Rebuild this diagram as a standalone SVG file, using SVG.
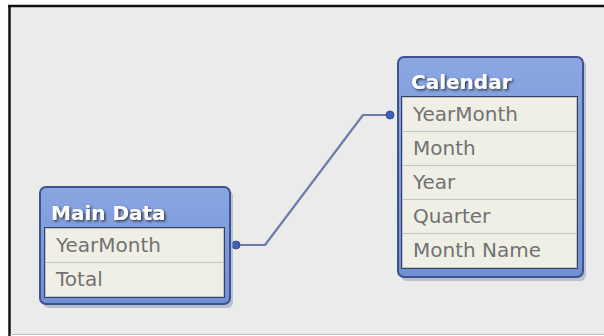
<svg xmlns="http://www.w3.org/2000/svg" width="604" height="336" viewBox="0 0 604 336">
<defs>
<style>
.hdr{font-family:"DejaVu Sans",sans-serif;font-weight:bold;font-size:20px;fill:#ffffff;filter:url(#ts);}
.fld{font-family:"DejaVu Sans",sans-serif;font-size:20px;fill:#727272;}
.row{fill:#f0efe6;stroke:#c4c4c0;stroke-width:1;}
.frame{stroke:#3f5290;stroke-width:2;}
.shadow{fill:#9aa3b8;opacity:0.6;}
.conn{fill:none;stroke:#6d7cab;stroke-width:2.2;stroke-linejoin:round;}
.dot{fill:#3e62c0;stroke:#2a3f80;stroke-width:0.8;}
</style>
<filter id="ts" x="-10%" y="-30%" width="130%" height="170%">
<feDropShadow dx="1.5" dy="1.5" stdDeviation="0.8" flood-color="#2a3040" flood-opacity="0.9"/>
</filter>
<linearGradient id="hg" x1="0" y1="0" x2="0" y2="1">
<stop offset="0" stop-color="#8aa6e2"/>
<stop offset="1" stop-color="#7090d4"/>
</linearGradient>
</defs>
<rect x="0" y="0" width="604" height="336" fill="#ffffff"/>
<rect x="9" y="6" width="600" height="328" fill="#ebebeb"/>
<line x1="8" y1="6" x2="604" y2="6" stroke="#111" stroke-width="2.5"/>
<line x1="9.5" y1="5" x2="9.5" y2="336" stroke="#111" stroke-width="2.5"/>
<line x1="10" y1="334.5" x2="604" y2="334.5" stroke="#bdbdbd" stroke-width="1"/>

<g id="connectors">
<polyline class="conn" points="237,245 265,245 363,115 389,115"/>
<circle class="dot" cx="236" cy="245" r="4"/>
<circle class="dot" cx="390" cy="115" r="4"/>
</g>

<g id="main-data">
<rect class="shadow" x="43" y="190" width="190" height="118" rx="6"/>
<rect class="frame" x="40" y="187" width="190" height="117" rx="6" fill="url(#hg)"/>
<rect x="44" y="227" width="181" height="71" fill="#34406a"/>
<rect class="row" x="45.5" y="228.5" width="178" height="34"/>
<rect class="row" x="45.5" y="262.5" width="178" height="34"/>
<text class="hdr" x="51" y="220">Main Data</text>
<text class="fld" x="56" y="252">YearMonth</text>
<text class="fld" x="56" y="286">Total</text>
</g>

<g id="calendar">
<rect class="shadow" x="401" y="60" width="185" height="221" rx="6"/>
<rect class="frame" x="398" y="57" width="185" height="220" rx="6" fill="url(#hg)"/>
<rect x="401" y="96" width="177" height="173" fill="#34406a"/>
<rect class="row" x="402.5" y="97.5" width="174" height="34"/>
<rect class="row" x="402.5" y="131.5" width="174" height="34"/>
<rect class="row" x="402.5" y="165.5" width="174" height="34"/>
<rect class="row" x="402.5" y="199.5" width="174" height="34"/>
<rect class="row" x="402.5" y="233.5" width="174" height="34"/>
<text class="hdr" x="411" y="89">Calendar</text>
<text class="fld" x="413" y="121">YearMonth</text>
<text class="fld" x="413" y="155">Month</text>
<text class="fld" x="413" y="189">Year</text>
<text class="fld" x="413" y="223">Quarter</text>
<text class="fld" x="413" y="257">Month Name</text>
</g>
</svg>
